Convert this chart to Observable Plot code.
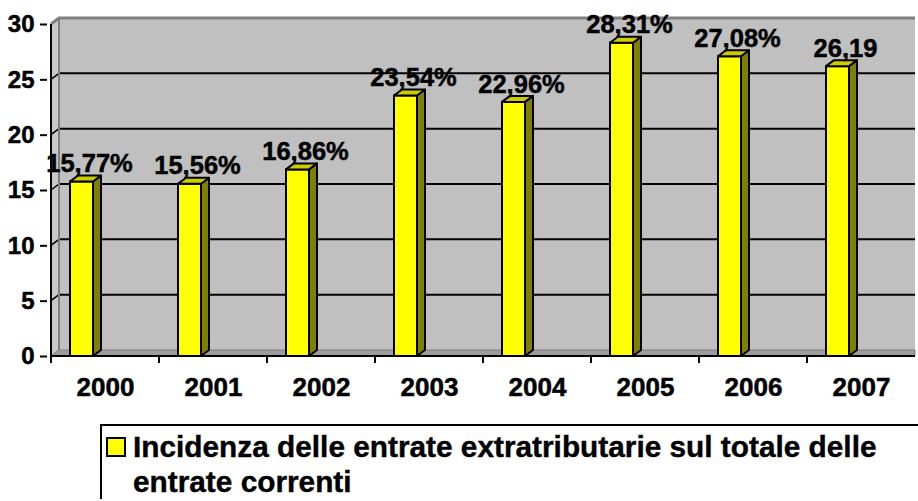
<!DOCTYPE html>
<html><head><meta charset="utf-8">
<script src="https://cdn.jsdelivr.net/npm/d3@7"></script>
<script src="https://cdn.jsdelivr.net/npm/@observablehq/plot@0.6"></script>
<style>
html,body{margin:0;padding:0;background:#fff;}
body{width:918px;height:501px;overflow:hidden;font-family:"Liberation Sans",Arial,sans-serif;}
#chart svg{display:block;overflow:visible;}
#legend{position:relative;margin-left:100px;margin-top:14px;border-top:2px solid #000;border-left:2px solid #000;padding:3px 0 0 31px;font-weight:bold;font-size:29.8px;line-height:35px;color:#000;-webkit-text-stroke:0.4px #000;}
#legend .sw{position:absolute;left:4px;top:11px;width:20px;height:20px;box-sizing:border-box;background:#ffff00;border:2px solid #000;}
</style></head><body>
<div id="chart"></div>
<div id="legend"><span class="sw"></span><span id="legtext"></span></div>
<script>
const years = ["2000", "2001", "2002", "2003", "2004", "2005", "2006", "2007"];
const values = [15.77, 15.56, 16.86, 23.54, 22.96, 28.31, 27.08, 26.19];
const labels = ["15,77%", "15,56%", "16,86%", "23,54%", "22,96%", "28,31%", "27,08%", "26,19"];
const yTicks = [0, 5, 10, 15, 20, 25, 30];
const legendLabel = "Incidenza delle entrate extratributarie sul totale delle entrate correnti";

const data = years.map((year, i) => ({year, value: values[i], label: labels[i]}));

const DX = 8, DY = -6;          // 3D depth offset
const INSET_L = 19, INSET_R = 66;

function walls(index, scales) {
  const {x, y} = scales;
  const bw = x.bandwidth();
  const x0 = x(years[0]), x1 = x(years[years.length - 1]) + bw;
  const yMax = y(yTicks[yTicks.length - 1]), yMin = y(yTicks[0]);
  const g = d3.create("svg:g");
  g.append("rect").attr("x", x0 + DX).attr("y", yMax + DY).attr("width", x1 - x0 - DX)
    .attr("height", yMin - yMax).attr("fill", "#c0c0c0");
  g.append("path").attr("d", `M${x0},${yMax}L${x0 + DX},${yMax + DY}L${x0 + DX},${yMin + DY}L${x0},${yMin}Z`)
    .attr("fill", "#c8c8c8").attr("stroke", "#808080").attr("stroke-width", 1);
  g.append("path").attr("d", `M${x0},${yMin}L${x0 + DX},${yMin + DY}L${x1},${yMin + DY}L${x1},${yMin}Z`)
    .attr("fill", "#9c9c9c").attr("stroke", "#808080").attr("stroke-width", 1);
  for (const v of yTicks.slice(1, -1)) {
    const yy = y(v);
    g.append("path").attr("d", `M${x0 + DX},${yy + DY}L${x1},${yy + DY}`)
      .attr("stroke", "#000").attr("stroke-width", 2).attr("fill", "none");
    g.append("path").attr("d", `M${x0},${yy}L${x0 + DX},${yy + DY}`)
      .attr("stroke", "#000").attr("stroke-width", 1.5).attr("fill", "none");
  }
  g.append("path").attr("d", `M${x0},${yMax}L${x0 + DX},${yMax + DY}L${x1},${yMax + DY}`)
    .attr("stroke", "#808080").attr("stroke-width", 3).attr("fill", "none");
  g.append("path").attr("d", `M${x0 + DX},${yMax + DY}L${x0 + DX},${yMin + DY}`)
    .attr("stroke", "#808080").attr("stroke-width", 2).attr("fill", "none");
  // front axes
  g.append("path").attr("d", `M${x0},${yMax}L${x0},${yMin + 7}`)
    .attr("stroke", "#000").attr("stroke-width", 2).attr("fill", "none");
  g.append("path").attr("d", `M${x0},${yMin}L${x1},${yMin}`)
    .attr("stroke", "#000").attr("stroke-width", 2).attr("fill", "none");
  for (const yr of years.slice(1)) {
    const xx = x(yr);
    g.append("path").attr("d", `M${xx},${yMin}L${xx},${yMin + 7}`)
      .attr("stroke", "#000").attr("stroke-width", 2).attr("fill", "none");
  }
  return g.node();
}

function faces(index, scales) {
  const {x, y} = scales;
  const bw = x.bandwidth();
  const y0 = y(0);
  const g = d3.create("svg:g").attr("stroke", "#000").attr("stroke-width", 2).attr("stroke-linejoin", "round");
  for (const d of data) {
    const xl = x(d.year) + INSET_L, xr = x(d.year) + bw - INSET_R;
    const yt = y(d.value);
    g.append("path").attr("fill", "#808000")
      .attr("d", `M${xr},${yt}L${xr + DX},${yt + DY}L${xr + DX},${y0 + DY}L${xr},${y0}Z`);
    g.append("path").attr("fill", "#cccc00")
      .attr("d", `M${xl},${yt}L${xl + DX},${yt + DY}L${xr + DX},${yt + DY}L${xr},${yt}Z`);
  }
  return g.node();
}

const chart = Plot.plot({
  width: 918,
  height: 410,
  marginLeft: 47,
  marginRight: 0,
  marginTop: 24,
  marginBottom: 54,
  style: {fontFamily: "'Liberation Sans', Arial, sans-serif", color: "#000", background: "transparent", overflow: "visible"},
  x: {domain: years, padding: 0},
  y: {domain: [0, 30]},
  marks: [
    walls,
    Plot.barY(data, {x: "year", y: "value", fill: "#ffff00", stroke: "#000", strokeWidth: 2, insetLeft: INSET_L, insetRight: INSET_R}),
    faces,
    Plot.text(data, {x: "year", y: "value", text: "label", dx: -16, dy: -18, lineAnchor: "middle", fontSize: 25.5, fontWeight: "bold", fill: "#000"}),
    Plot.axisX({tickSize: 0, tickPadding: 21, fontSize: 26, fontWeight: "bold", label: null}),
    Plot.axisY({ticks: yTicks, tickSize: 7, tickPadding: 6, fontSize: 24, fontWeight: "bold", strokeWidth: 2, label: null})
  ]
});
document.getElementById("chart").appendChild(chart);
// typographic styling applied inline so it wins over Plot defaults
const yStr = yTicks.map(String);
d3.select(chart).selectAll("text").each(function () {
  const t = this.textContent;
  let fs = null;
  if (years.includes(t)) fs = 26;
  else if (yStr.includes(t)) fs = 24;
  else if (labels.includes(t)) fs = 25.5;
  if (fs) {
    this.style.fontSize = fs + "px";
    this.style.fontWeight = "bold";
    this.style.fontFamily = "'Liberation Sans', Arial, sans-serif";
    this.style.fill = "#000";
    this.style.stroke = "#000";
    this.style.strokeWidth = "0.5px";
  }
});
document.getElementById("legtext").textContent = legendLabel;
</script></body></html>
